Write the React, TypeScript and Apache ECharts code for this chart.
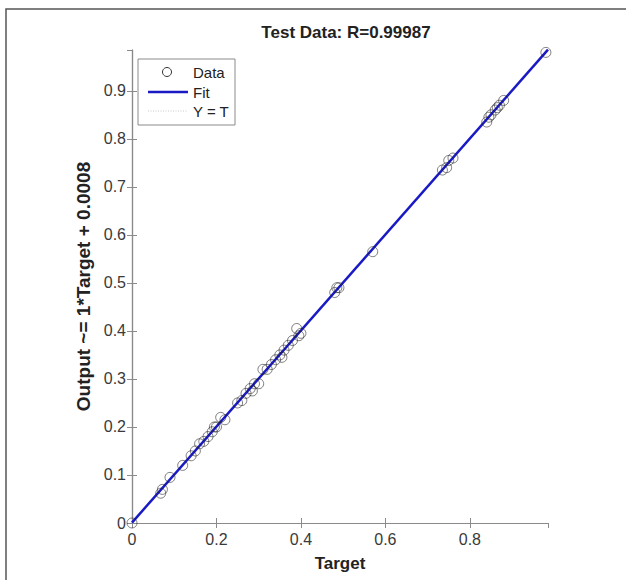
import React, { useEffect, useRef } from "react";
import * as echarts from "echarts";

const titleText = "Test Data: R=0.99987";
const xName = "Target";
const yName = "Output ~= 1*Target + 0.0008";
const axisMax = 0.985;
const legendNames = ["Data", "Fit", "Y = T"];

const targets = [
  0, 0.068, 0.072, 0.09, 0.12, 0.14, 0.15, 0.16, 0.17, 0.18, 0.19, 0.195, 0.2, 0.21, 0.22,
  0.25, 0.26, 0.27, 0.28, 0.285, 0.29, 0.3, 0.31, 0.32, 0.33, 0.34, 0.35, 0.355, 0.36, 0.37,
  0.38, 0.39, 0.395, 0.4, 0.48, 0.485, 0.49, 0.57, 0.735, 0.745, 0.75, 0.76, 0.84, 0.845,
  0.85, 0.86, 0.865, 0.87, 0.88, 0.98,
];
const outputs = [
  0, 0.062, 0.07, 0.095, 0.12, 0.14, 0.15, 0.165, 0.17, 0.18, 0.19, 0.2, 0.2, 0.22, 0.215,
  0.25, 0.255, 0.27, 0.28, 0.275, 0.29, 0.29, 0.32, 0.32, 0.33, 0.34, 0.35, 0.345, 0.36, 0.37,
  0.38, 0.405, 0.39, 0.395, 0.48, 0.49, 0.49, 0.565, 0.735, 0.74, 0.755, 0.76, 0.835, 0.845,
  0.85, 0.86, 0.865, 0.87, 0.88, 0.98,
];
const fitSlope = 1;
const fitIntercept = 0.0008;
const lineEnds = [0, 0.985];

export default function App() {
  const ref = useRef<HTMLDivElement>(null);
  useEffect(() => {
    if (!ref.current) return;
    const chart = echarts.init(ref.current, undefined, { renderer: "svg" });
    const font = "'Liberation Sans', Arial, Helvetica, sans-serif";
    const axisGray = "#8a8a8a";
    const labelColor = "#3a3a3a";
    const fitColor = "#1a1ac4";
    const circleColor = "rgba(30,30,30,0.7)";
    const scatterData = targets.map((t, i) => [t, outputs[i]]);
    const fitData = lineEnds.map((t) => [t, fitSlope * t + fitIntercept]);
    const ytData = lineEnds.map((t) => [t, t]);
    const baseAxis = {
      type: "value" as const,
      min: 0,
      max: axisMax,
      axisLine: { show: true, lineStyle: { color: axisGray, width: 1.2 } },
      axisTick: { show: true, inside: true, length: 5, lineStyle: { color: axisGray } },
      splitLine: { show: false },
    };
    const legendText = (t: string, y: number) => ({
      type: "text",
      x: 193,
      y,
      style: { text: t, font: `15px ${font}`, fill: "#222", verticalAlign: "middle", align: "left" },
      z: 101,
    });
    chart.setOption({
      animation: false,
      backgroundColor: "#ffffff",
      textStyle: { fontFamily: font },
      title: {
        text: titleText,
        left: 341,
        textAlign: "center",
        top: 19,
        textStyle: { fontFamily: font, fontSize: 17, fontWeight: "bold", color: "#222" },
      },
      graphic: [
        {
          type: "rect",
          shape: { x: 6, y: 9, width: 700, height: 700 },
          style: { fill: "none", stroke: "#555", lineWidth: 1.5 },
          silent: true,
          z: -10,
        },
        {
          type: "rect",
          shape: { x: 138, y: 59, width: 97, height: 66 },
          style: { fill: "#fff", stroke: "#8a8a8a", lineWidth: 1 },
          z: 100,
        },
        {
          type: "circle",
          shape: { cx: 167, cy: 72, r: 4.5 },
          style: { fill: "none", stroke: "#333", lineWidth: 1 },
          z: 101,
        },
        {
          type: "line",
          shape: { x1: 148, y1: 92, x2: 188, y2: 92 },
          style: { stroke: fitColor, lineWidth: 2.5 },
          z: 101,
        },
        {
          type: "line",
          shape: { x1: 148, y1: 111, x2: 188, y2: 111 },
          style: { stroke: "#c8c8c8", lineWidth: 1, lineDash: [1, 1.5] },
          z: 101,
        },
        legendText(legendNames[0], 72),
        legendText(legendNames[1], 92),
        legendText(legendNames[2], 111),
      ],
      grid: { left: 132, top: 50, right: 78, bottom: 57, containLabel: false },
      xAxis: [
        {
          ...baseAxis,
          position: "bottom",
          interval: 0.2,
          name: xName,
          nameLocation: "middle",
          nameGap: 32,
          nameTextStyle: { fontFamily: font, fontSize: 17, fontWeight: "bold", color: "#222" },
          axisLabel: {
            show: true,
            color: labelColor,
            fontSize: 16,
            margin: 8,
            showMaxLabel: false,
            formatter: (v: number) => String(v),
          },
        },
        {
          ...baseAxis,
          position: "top",
          interval: 0.2,
          axisLabel: { show: false },
        },
      ],
      yAxis: [
        {
          ...baseAxis,
          position: "left",
          interval: 0.1,
          name: yName,
          nameLocation: "middle",
          nameGap: 31,
          nameRotate: 90,
          nameTextStyle: { fontFamily: font, fontSize: 19, fontWeight: "bold", color: "#222" },
          axisLabel: {
            show: true,
            color: labelColor,
            fontSize: 16,
            margin: 6,
            showMaxLabel: false,
            formatter: (v: number) => String(Math.round(v * 10) / 10),
          },
        },
        {
          ...baseAxis,
          position: "right",
          interval: 0.1,
          axisLabel: { show: false },
        },
      ],
      series: [
        {
          name: legendNames[2],
          type: "line",
          data: ytData,
          symbol: "none",
          lineStyle: { color: "#c8c8c8", width: 1, type: "dotted" },
          z: 0,
        },
        {
          name: legendNames[1],
          type: "line",
          data: fitData,
          symbol: "none",
          lineStyle: { color: fitColor, width: 2.5 },
          itemStyle: { color: fitColor },
          z: 10,
        },
        {
          name: legendNames[0],
          type: "scatter",
          data: scatterData,
          symbol: "circle",
          symbolSize: 10,
          itemStyle: { color: "rgba(0,0,0,0)", borderColor: circleColor, borderWidth: 1 },
          z: 20,
        },
      ],
    });
    return () => chart.dispose();
  }, []);
  return (
    <div
      ref={ref}
      style={{ position: "fixed", left: 0, top: 0, width: 626, height: 580, background: "#fff" }}
    />
  );
}
